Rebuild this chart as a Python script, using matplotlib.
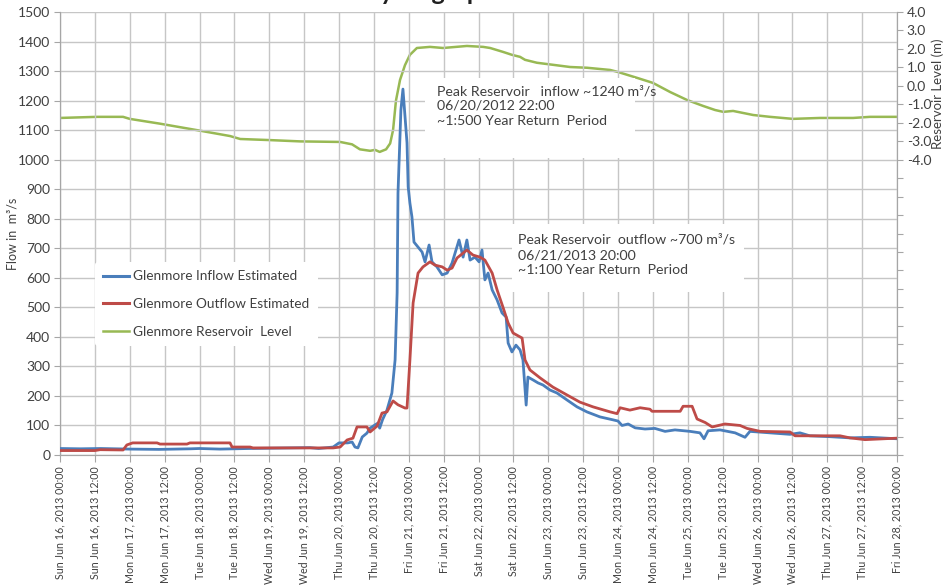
import matplotlib
matplotlib.use("Agg")
import matplotlib.pyplot as plt
import matplotlib.dates as mdates
from matplotlib.ticker import FixedLocator, FuncFormatter, MultipleLocator
from matplotlib.lines import Line2D
from matplotlib.patches import Rectangle
import datetime as dt

plt.rcParams['font.family'] = ['Lato', 'DejaVu Sans']

START = dt.datetime(2013, 6, 16, 0, 0)

# Hours since Sun Jun 16 2013 00:00 and flows (m3/s)
inflow_hours = [0, 7, 14, 24, 34, 45, 48, 55, 65, 72, 79, 86, 89, 94, 96, 99, 100.5, 101.5,
                102.5, 104, 105.6, 106.7, 108.4, 109.4, 110, 111, 112.5, 114.2, 115.3, 116,
                116.3, 117.3, 118, 119.4, 119.8, 120.4, 121.1, 121.8, 123.2, 124.6, 125.6,
                127, 128, 129.7, 131.5, 133.2, 134.9, 137.3, 138.7, 140, 141.1, 142.8, 144.2,
                145.2, 146.2, 147.3, 148.7, 150.4, 152.1, 153.5, 154.2, 155.5, 156.9, 158.3,
                159.3, 160.4, 161, 162.8, 164.5, 166.2, 168.6, 171, 174.5, 177.9, 181.3,
                185.8, 190.3, 192, 193.4, 195.5, 197.9, 201.3, 204.7, 208.2, 211.6, 216.8,
                220.2, 221.6, 223, 227.1, 232.3, 235.7, 237.4, 244.3, 251.2, 254.6, 258,
                265, 271.8, 278.7, 288]
inflow = [22, 21, 22, 20, 19, 21, 22, 20, 22, 23, 24, 25, 22, 27, 41, 41, 44, 27,
          24, 61, 74, 91, 102, 108, 91, 120, 152, 210, 322, 549,
          887, 1168, 1239, 1057, 908, 853, 806, 721, 704, 687, 654,
          711, 654, 637, 610, 616, 650, 728, 670, 728, 660, 670, 654,
          694, 593, 616, 559, 525, 481, 467, 379, 349, 372, 356,
          322, 169, 264, 254, 244, 237, 220, 210, 186, 163, 146,
          129, 119, 115, 100, 105, 92, 88, 90, 80, 85, 80,
          75, 55, 82, 85, 75, 60, 80, 75, 70, 75, 65,
          62, 58, 60, 55]

outflow_hours = [0, 12, 13.8, 21.7, 23, 25, 33.4, 34.4, 43.7, 44.7, 58.5, 59.2, 65.4, 66.4,
                 94, 96.4, 98.8, 100.8, 102.2, 105.6, 106.7, 109.1, 110.8, 112.5, 114.6,
                 116.3, 118.7, 119.4, 120.4, 121.5, 123.2, 124.9, 127.3, 129, 131.5, 133.2,
                 134.9, 136.6, 140, 142.1, 144.5, 146.2, 148.7, 150.4, 152.4, 154.2, 155.9,
                 159, 160, 161.7, 165.2, 169.6, 174.5, 178.9, 183.4, 189.3, 191.7, 192.7,
                 196.1, 199.6, 203, 203.7, 213.4, 214.4, 217.5, 219.2, 222, 224.4, 228.8,
                 234, 236.4, 240.9, 251.2, 252.9, 268.4, 271.8, 277, 288]
outflow = [15, 15, 18, 17, 34, 41, 41, 37, 37, 41, 41, 27, 27, 24,
           24, 27, 51, 57, 95, 95, 78, 98, 142, 146, 183,
           170, 159, 159, 322, 515, 616, 637, 654, 643, 637, 626,
           633, 667, 694, 677, 670, 660, 616, 559, 501, 447, 413,
           396, 322, 288, 261, 230, 203, 179, 163, 146, 140, 160,
           152, 160, 155, 148, 148, 165, 165, 122, 110, 95, 105,
           100, 90, 80, 78, 65, 65, 58, 52, 57]

level_hours = [0, 12.7, 21.7, 24, 34.4, 41.3, 48.2, 58.5, 62, 72.3, 82.6, 96.4, 100.5, 103.2,
               106.7, 108.4, 110, 112.2, 113.6, 114.6, 115.6, 117, 118.7, 120.4, 122.8,
               127.3, 131.8, 140, 145.6, 148, 152.4, 155.5, 158.3, 160, 164.1, 169.6, 175.5,
               181.3, 189.3, 192, 198.6, 204, 210, 215.8, 221.3, 225.4, 228.2, 231.6, 238.5,
               244.3, 252.2, 261.5, 272.9, 278.7, 288]
level = [-1.74, -1.68, -1.68, -1.79, -2.05, -2.24, -2.43, -2.72, -2.88, -2.94, -3.01, -3.04,
         -3.17, -3.44, -3.52, -3.47, -3.58, -3.44, -3.12, -2.40, -0.80, 0.32, 1.12, 1.68,
         2.05, 2.11, 2.05, 2.16, 2.11, 2.05, 1.84, 1.68, 1.57, 1.41, 1.25, 1.14, 1.02,
         0.98, 0.86, 0.75, 0.43, 0.16, -0.34, -0.77, -1.09, -1.31, -1.41, -1.36, -1.58,
         -1.68, -1.79, -1.74, -1.74, -1.68, -1.68]

series_labels = ["Glenmore Inflow Estimated", "Glenmore Outflow Estimated", "Glenmore Reservoir  Level"]
annot_inflow = "Peak Reservoir   inflow ~1240 m\u00b3/s\n06/20/2012 22:00\n~1:500 Year Return  Period"
annot_outflow = "Peak Reservoir  outflow ~700 m\u00b3/s\n06/21/2013 20:00\n~1:100 Year Return  Period"

BLUE = "#4a7ebb"
RED = "#be4b48"
GREEN = "#98b954"
GRID = "#c6c6c6"
AXC = "#a6a6a6"
TXT = "#404040"


def to_dates(hours):
    return [START + dt.timedelta(hours=h) for h in hours]


fig = plt.figure(figsize=(9.45, 5.88), dpi=100)
ax = fig.add_axes([60 / 945, 133 / 588, 837 / 945, 443 / 588])
ax2 = ax.twinx()

ax.plot(to_dates(inflow_hours), inflow, color=BLUE, lw=2.0, zorder=4)
ax.plot(to_dates(outflow_hours), outflow, color=RED, lw=2.0, zorder=5)
ax2.plot(to_dates(level_hours), level, color=GREEN, lw=1.8, zorder=3)

ax.set_ylim(0, 1500)
ax.yaxis.set_major_locator(MultipleLocator(100))
ax2.set_ylim(-20, 4)
ax2.yaxis.set_major_locator(FixedLocator(list(range(-20, 5))))
ax2.yaxis.set_major_formatter(FuncFormatter(lambda v, p: f"{v:.1f}" if -4.01 <= v <= 4.01 else ""))

ax.set_xlim(START, START + dt.timedelta(hours=288))
ax.xaxis.set_major_locator(mdates.HourLocator(byhour=[0, 12]))
ax.xaxis.set_major_formatter(mdates.DateFormatter("%a %b %d, %Y %H:%M"))
for lab in ax.get_xticklabels():
    lab.set_rotation(90)

ax.grid(True, color=GRID, lw=1.0, zorder=0)
ax.set_axisbelow(True)

for a in (ax, ax2):
    for s in a.spines.values():
        s.set_color(AXC)
    a.spines['top'].set_visible(False)
ax.tick_params(axis='x', direction='out', length=5, color=AXC, labelsize=7.7, labelcolor=TXT, pad=3)
ax.tick_params(axis='y', direction='out', length=4, color=AXC, labelsize=10, labelcolor=TXT, pad=3)
ax2.tick_params(axis='y', direction='out', length=4, color=AXC, labelsize=10, labelcolor=TXT, pad=3)

ax.set_ylabel("Flow in  m\u00b3/s", fontsize=9, color=TXT)
ax.yaxis.set_label_coords(-0.050, 0.5)
fig.text(938 / 945, 1 - 94 / 588, "Reservoir Level (m)", fontsize=9.5, color=TXT,
         rotation=90, ha='center', va='center')

# draw the left axes above the twin so its lines sit on top of the level line
ax.set_zorder(ax2.get_zorder() + 1)
ax.patch.set_visible(False)

# white boxes behind annotation texts
for (x0, y0, w, h) in [(365 / 837, (455 - 158) / 443, 210 / 837, 80 / 443),
                       (452 / 837, (455 - 292) / 443, 232 / 837, 68 / 443)]:
    ax.add_patch(Rectangle((x0, y0), w, h, transform=ax.transAxes, facecolor="white",
                           edgecolor="none", zorder=2))

ax.text(377 / 837, (455 - 85) / 443, annot_inflow, transform=ax.transAxes, fontsize=10.2,
        color=TXT, va='top', ha='left', linespacing=1.3, zorder=6)
ax.text(458 / 837, (455 - 234) / 443, annot_outflow, transform=ax.transAxes, fontsize=10.2,
        color=TXT, va='top', ha='left', linespacing=1.3, zorder=6)

handles = [Line2D([], [], color=BLUE, lw=2.2), Line2D([], [], color=RED, lw=2.2),
           Line2D([], [], color=GREEN, lw=1.8)]
leg = ax.legend(handles, series_labels, loc='center left', bbox_to_anchor=(35 / 837, 0.341),
                frameon=True, fontsize=9.8, handlelength=1.9, handletextpad=0.3,
                labelspacing=1.15, borderpad=0.6, borderaxespad=0)
leg.get_frame().set_facecolor("white")
leg.get_frame().set_edgecolor("none")
leg.get_frame().set_alpha(1)
leg.set_zorder(7)
for t in leg.get_texts():
    t.set_color(TXT)

# title, cut off at the top edge as in the reference
fig.text(428 / 945, 1.0, "Hydrograph", fontsize=18, fontweight='bold', color="#202020",
         ha='center', va='baseline')

fig.savefig("out.png", dpi=100)
